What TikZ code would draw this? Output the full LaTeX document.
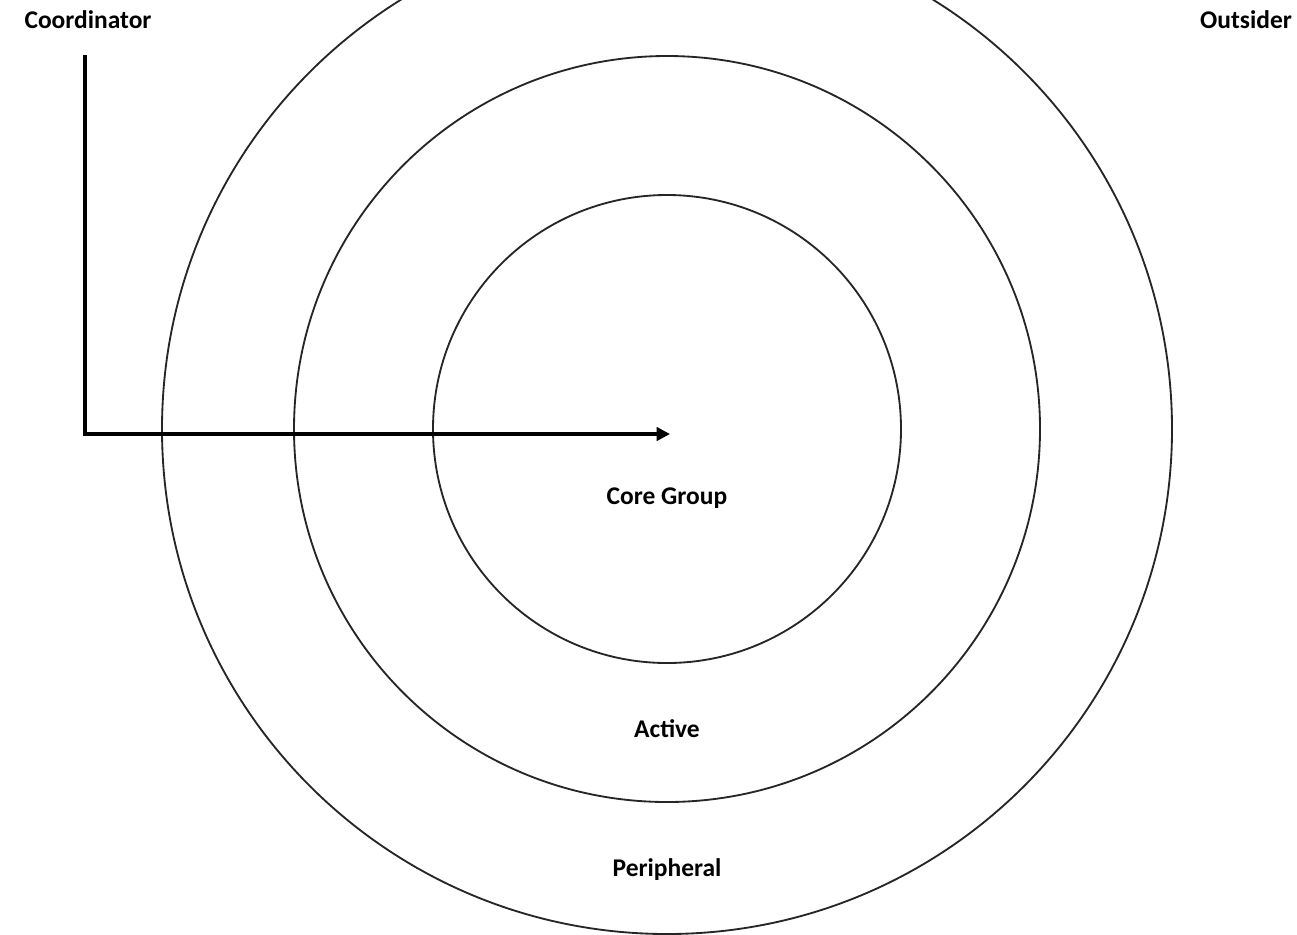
\documentclass[tikz,border=0pt]{standalone}
\usepackage{fontspec}
\setmainfont{Carlito}
\usetikzlibrary{arrows.meta}

\begin{document}
\begin{tikzpicture}[x=0.02cm,y=-0.02cm]
		\tikzstyle{ring}=[draw=black!85,line width=1.05pt]
		\tikzstyle{label}=[font=\fontsize{14.5}{17}\selectfont\bfseries,inner sep=0,anchor=base]
		\useasboundingbox (0,0) rectangle (1297,934);
		\clip (0,0) rectangle (1297,934);

		\coordinate (centre) at (667,429);
		\foreach \r/\name in {234/core,373/active,505/peripheral}
			\draw[ring] (centre) circle[radius=\r];

		\node[label] (coordinator) at (88,28) {Coordinator};
		\node[label] (outsider) at (1246,28) {Outsider};
		\node[label] (coregroup) at (667,504) {Core Group};
		\node[label] (activelbl) at (667,737) {Active};
		\node[label] (periphlbl) at (667,876) {Peripheral};

		\coordinate (start) at (85,55);
		\coordinate (corner) at (85,434);
		\coordinate (hub) at (670,434);
		\draw[line width=1.8pt,-{Triangle[length=0.27cm,width=0.27cm]}] (start) -- (corner) -- (hub);
	\end{tikzpicture}
\end{document}
